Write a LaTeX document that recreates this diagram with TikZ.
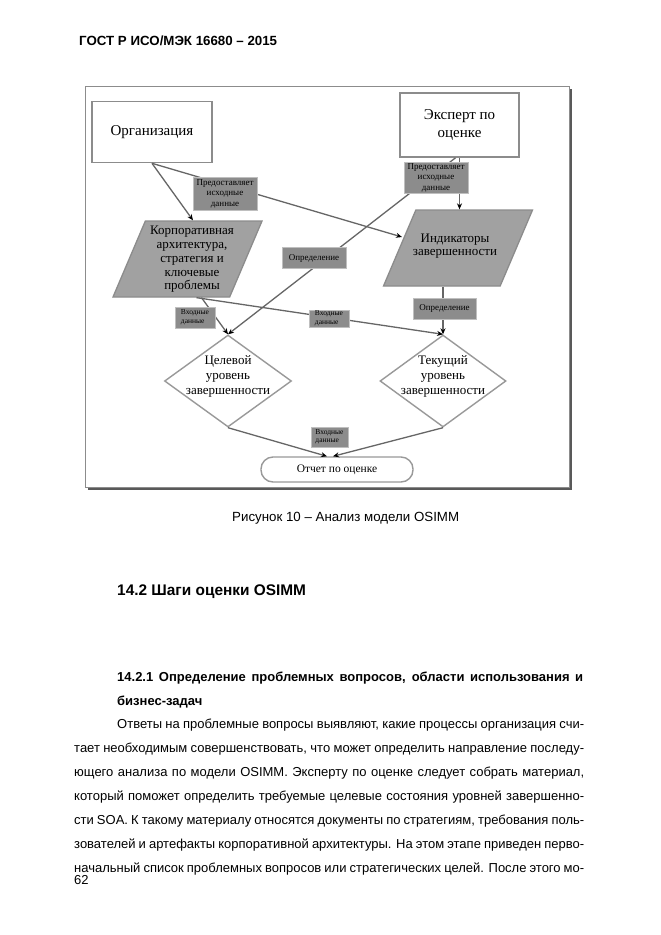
\documentclass[tikz,border=0pt]{standalone}
\usepackage{fontspec}
\setmainfont{Liberation Sans}
\newfontfamily\diagfont{Liberation Serif}
\usetikzlibrary{positioning,arrows.meta,shapes.geometric,calc}
\newcommand\subfont{\bfseries\fontsize{13}{15}\selectfont\spaceskip=3.6pt plus 40pt minus 2.4pt\relax}
\newcommand\bodyfont{\fontsize{13}{15}\selectfont\spaceskip=3.6pt plus 40pt minus 2.6pt\relax}
\newcommand\fullline[2]{\makebox[#1][s]{#2}}
\tikzset{
  >={Stealth[length=6pt,width=5pt,color=black]},
  frame/.style={draw=black!45,line width=0.8pt,fill=white},
  actor/.style={draw=black!45,line width=1.6pt,fill=white,minimum width=120pt,
    minimum height=61pt,font=\diagfont\fontsize{15}{18}\selectfont,align=center,inner sep=2pt},
  para/.style={trapezium,trapezium left angle=69,trapezium right angle=111,
    trapezium stretches=true,draw=black!45,line width=1.3pt,fill=black!37,
    minimum width=149pt,minimum height=76pt,inner sep=1pt},
  paratxt/.style={font=\diagfont\fontsize{13}{13.7}\selectfont,align=center,inner sep=0pt},
  lvl/.style={diamond,draw=black!40,line width=1.4pt,fill=white,
    minimum width=127pt,minimum height=92pt,inner sep=1pt},
  lvltxt/.style={font=\diagfont\fontsize{13}{15}\selectfont,align=center,inner sep=0pt},
  report/.style={draw=black!40,line width=1.4pt,fill=white,rounded corners=12pt,
    minimum width=152pt,minimum height=25pt,font=\diagfont\fontsize{11.5}{13}\selectfont},
  tag/.style={draw=black!25,line width=0.8pt,fill=black!45,inner sep=0pt,align=center,
    font=\diagfont\fontsize{9}{10.5}\selectfont},
  smalltag/.style={tag,align=left,font=\diagfont\fontsize{7.5}{8.5}\selectfont},
  link/.style={->,draw=black!60,line width=1.3pt},
  pagehead/.style={anchor=base west,inner sep=0pt,font=\bfseries\fontsize{13.3}{15}\selectfont},
  caption/.style={anchor=base west,inner sep=0pt,font=\fontsize{13.3}{15}\selectfont},
  sechead/.style={anchor=base west,inner sep=0pt,font=\bfseries\fontsize{15.4}{18}\selectfont},
  subhead/.style={anchor=base west,inner sep=0pt,font=\subfont},
  bodyline/.style={anchor=base west,inner sep=0pt,font=\bodyfont},
}

\begin{document}
\begin{tikzpicture}[x=1pt,y=-1pt]
  \useasboundingbox[fill=white] (0,0) rectangle (661,935);
  \node[pagehead] (gost) at (79,45) {ГОСТ Р ИСО/МЭК 16680 – 2015};

  % figure frame with shadow
  \fill[black!65] (88,89) rectangle (572,490);
  \draw[frame] (85,86) rectangle (569,487);

  % blocks
  \node[actor] (org) at (152,132) {Организация};
  \node[actor,minimum width=119pt,minimum height=64pt] (ex) at (459.5,125) {Эксперт по\\оценке};
  \node[para] (corp) at (187.5,259) {};
  \node[paratxt] (corptxt) at (192,259.5) {Корпоративная\\архитектура,\\стратегия и\\ключевые\\проблемы};
  \node[para] (ind) at (458,248) {};
  \node[paratxt] (indtxt) at (455,246) {Индикаторы\\завершенности};
  \node[lvl] (tgt) at (228,381) {};
  \node[lvltxt] (tgttxt) at (228,376) {Целевой\\уровень\\завершенности};
  \node[lvl,minimum width=126pt] (cur) at (443,381) {};
  \node[lvltxt] (curtxt) at (443,376) {Текущий\\уровень\\завершенности};
  \node[report] (rep) at (337,469.5) {Отчет по оценке};

  % connectors
  \draw[link] (org.south) -- ([xshift=5.5pt]corp.north);
  \draw[link] (org.south) -- ([shift={(3,-11)}]ind.west);
  \draw[link] (ex.south) -- (ex.south |- ind.north);
  \draw[link] ([xshift=-4pt]ex.south) -- (tgt.north);
  \draw[link] ([xshift=14pt]corp.south) -- (tgt.north);
  \draw[link] ([xshift=9pt]corp.south) -- (cur.north);
  \draw[link] (cur.north |- ind.south) -- (cur.north);
  \draw[link] (tgt.south) -- ([xshift=-10pt]rep.north);
  \draw[link] (cur.south) -- ([xshift=-4pt]rep.north);

  % edge labels
  \node[tag,minimum width=64pt,minimum height=33pt] (tagorg) at (225,193.5) {Предоставляет\\исходные\\данные};
  \node[tag,minimum width=64pt,minimum height=31pt] (tagex) at (436,177.5) {Предоставляет\\исходные\\данные};
  \node[tag,minimum width=64pt,minimum height=21pt] (defmid) at (314,258) {Определение};
  \node[tag,minimum width=63pt,minimum height=21pt] (defind) at (444.5,308.5) {Определение};
  \node[smalltag,minimum width=40pt,minimum height=21pt] (incorp) at (195,317.5) {Входные\\данные};
  \node[smalltag,minimum width=40pt,minimum height=17pt] (inmid) at (329,318.5) {Входные\\данные};
  \node[smalltag,minimum width=37pt,minimum height=20pt] (inrep) at (329.5,437) {Входные\\данные};

  % page text
  \node[caption] (cap) at (232,521) {Рисунок 10 – Анализ модели OSIMM};
  \node[sechead] (sec) at (117,595) {14.2 Шаги оценки OSIMM};
  \node[subhead] (sub1) at (117,681) {\fullline{466pt}{14.2.1 Определение проблемных вопросов, области использования и}};
  \node[subhead] (sub2) at (117,705) {бизнес-задач};
  \node[bodyline] (body0) at (117,728) {\fullline{467pt}{Ответы на проблемные вопросы выявляют, какие процессы организация счи-}};
  \foreach \bodytext [count=\i] in {
    {тает необходимым совершенствовать, что может определить направление последу-},
    {ющего анализа по модели OSIMM. Эксперту по оценке следует собрать материал,},
    {который поможет определить требуемые целевые состояния уровней завершенно-},
    {сти SOA. К такому материалу относятся документы по стратегиям, требования поль-},
    {зователей и артефакты корпоративной архитектуры. На этом этапе приведен перво-},
    {начальный список проблемных вопросов или стратегических целей. После этого мо-}}
    \node[bodyline] (body\i) at (74,{728+24*\i}) {\fullline{510pt}{\bodytext}};
  \node[bodyline] (pgno) at (74,884) {62};
\end{tikzpicture}
\end{document}
